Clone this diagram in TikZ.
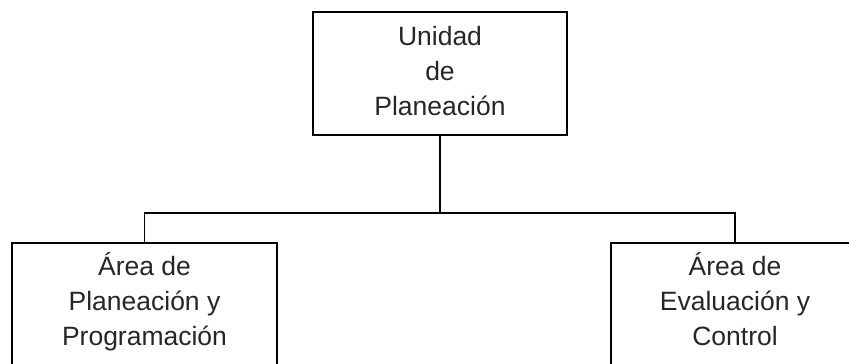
\documentclass[tikz,border=0pt]{standalone}
\usepackage{fontspec}
\setmainfont{Liberation Sans}
\newcommand{\lowstrut}{\rule[-14.5pt]{0pt}{14.5pt}}
\begin{document}
\begin{tikzpicture}[x=1pt,y=-1pt,
  box/.style={draw=black, line width=1.3pt, align=center, inner sep=0pt,
    font=\fontsize{26.5}{35}\selectfont, text=black!85},
  link/.style={draw=black, line width=1.3pt}]
\clip (0,0) rectangle (849,364);
\useasboundingbox (0,0) rectangle (849,364);
\node[box, minimum width=254pt, minimum height=123pt] (top) at (440,73.5)
  {\strut Unidad\\de\\Planeación\strut};
\node[box, minimum width=265pt, minimum height=124pt] (left) at (144.5,305)
  {\strut Área de\\Planeación y\\Programación\lowstrut};
\node[box, minimum width=248pt, minimum height=124pt] (right) at (735,305)
  {\strut Área de\\Evaluación y\\Control\lowstrut};
\coordinate (j) at (440,213);
\draw[link] (top.south) -- (j);
\draw[link] (j) -| (left.north);
\draw[link] (j) -| (right.north);
\end{tikzpicture}
\end{document}
